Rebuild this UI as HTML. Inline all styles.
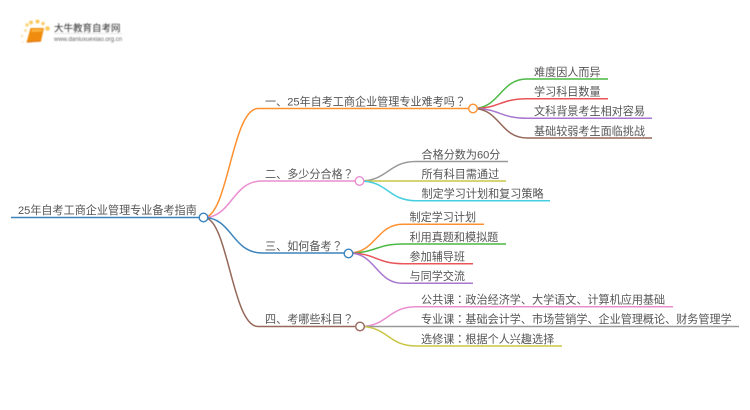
<!DOCTYPE html>
<html><head><meta charset="utf-8"><style>
html,body{margin:0;padding:0;background:#fff}
svg{display:block}
text{font-family:"Liberation Sans","Noto Sans CJK SC",sans-serif;font-size:11.1px;fill:#555}
tspan.p{font-family:"Noto Sans CJK TC",sans-serif}
path{fill:none;stroke-width:1.5}
circle{fill:#fff;stroke-width:1.4}
</style></head><body>
<svg width="750" height="410" viewBox="0 0 750 410" xmlns="http://www.w3.org/2000/svg">
<defs>
<filter id="b" x="-10%" y="-10%" width="120%" height="120%"><feGaussianBlur stdDeviation="0.4"/></filter>
<filter id="t" x="-5%" y="-20%" width="110%" height="140%"><feGaussianBlur stdDeviation="0.22"/></filter>
</defs>
<rect width="750" height="410" fill="#fff"/>
<!-- logo -->
<g filter="url(#b)">
<circle cx="22.500" cy="42" r="1" style="fill:#fdeecb;stroke:none"/>
<circle cx="22" cy="36" r="1.300" style="fill:#fde5b0;stroke:none"/>
<circle cx="25.500" cy="30.500" r="1.500" style="fill:#fde0a0;stroke:none"/>
<circle cx="27" cy="25" r="1.800" style="fill:#fbd47e;stroke:none"/>
<circle cx="31" cy="22.500" r="2" style="fill:#fbcc66;stroke:none"/>
<circle cx="37.500" cy="21.500" r="2" style="fill:#fbc95c;stroke:none"/>
<circle cx="43" cy="23.500" r="1.800" style="fill:#fbcc66;stroke:none"/>
<circle cx="47.500" cy="28.500" r="2.300" style="fill:#fbc95c;stroke:none"/>
<polygon points="30.500,28 44,28 41,41.500 26.500,42.500" fill="#f08c0c"/>
<polygon points="32,29.300 42.500,29.300 41.800,31.500 31.300,32" fill="#f9b540"/>
<line x1="27" y1="42" x2="41" y2="41" stroke="#dd700a" stroke-width="1.100"/>
<text x="54" y="31.500" style="font-size:9.500px;fill:#333">大牛教育自考网</text>
<line x1="54" y1="33.500" x2="122" y2="33.500" stroke="#ddd" stroke-width="0.8"/>
<text x="54" y="41" style="font-size:6px;fill:#666">www.daniuxuexiao.org.cn</text>
</g>

<!-- root -->
<path d="M11 217.500H199" stroke="#3b83bd"/>
<path d="M204 217.500C228 217.500 232 108.500 258 108.500H468" stroke="#ff9030"/>
<path d="M204 217.500C232 217.500 232 181 262 181H355" stroke="#ea8ed0"/>
<path d="M204 217.500C232 217.500 232 253 262 253H344" stroke="#3b83bd"/>
<path d="M204 217.500C228 217.500 232 326.500 258 326.500H355" stroke="#95685a"/>
<!-- b1 -->
<path d="M473 108.500C500 108.500 500 79 527 79H608" stroke="#4cb944"/>
<path d="M473 108.500C500 108.500 500 98.700 527 98.700H608" stroke="#e8545a"/>
<path d="M473 108.500C500 108.500 500 118.300 527 118.300H652" stroke="#a877cf"/>
<path d="M473 108.500C500 108.500 500 138 527 138H652" stroke="#95685a"/>
<!-- b2 -->
<path d="M360 181C388 181 388 161.500 416 161.500H508" stroke="#999"/>
<path d="M360 181H506" stroke="#c9c545"/>
<path d="M360 181C388 181 388 200.700 416 200.700H550" stroke="#45cfe0"/>
<!-- b3 -->
<path d="M349 253C376 253 376 224.300 403 224.300H484" stroke="#ff9030"/>
<path d="M349 253C376 253 376 244 403 244H506" stroke="#4cb944"/>
<path d="M349 253C376 253 376 263.700 403 263.700H473" stroke="#e8545a"/>
<path d="M349 253C376 253 376 283.300 403 283.300H473" stroke="#a877cf"/>
<!-- b4 -->
<path d="M360 326.500C388 326.500 388 306.700 416 306.700H673" stroke="#ea8ed0"/>
<path d="M360 326.500H739" stroke="#999"/>
<path d="M360 326.500C388 326.500 388 346 416 346H562" stroke="#c9c545"/>

<circle cx="203.500" cy="217.500" r="4.300" stroke="#3b83bd"/>
<circle cx="473" cy="108.500" r="4.300" stroke="#ff9030"/>
<circle cx="359.500" cy="181" r="4.300" stroke="#ea8ed0"/>
<circle cx="348.500" cy="253.500" r="4.300" stroke="#3b83bd"/>
<circle cx="360" cy="326.500" r="4.300" stroke="#95685a"/>

<g filter="url(#t)">
<text x="18" y="214">25年自考工商企业管理专业备考指南</text>
<text x="265" y="105.500">一、25年自考工商企业管理专业难考吗<tspan class="p">？</tspan></text>
<text x="265" y="178">二、多少分合格<tspan class="p">？</tspan></text>
<text x="265" y="250">三、如何备考<tspan class="p">？</tspan></text>
<text x="265" y="323">四、考哪些科目<tspan class="p">？</tspan></text>

<text x="534" y="76">难度因人而异</text>
<text x="534" y="95.500">学习科目数量</text>
<text x="534" y="115">文科背景考生相对容易</text>
<text x="534" y="135">基础较弱考生面临挑战</text>

<text x="421.500" y="158.500">合格分数为60分</text>
<text x="421.500" y="178">所有科目需通过</text>
<text x="421.500" y="197.500">制定学习计划和复习策略</text>

<text x="409.500" y="221">制定学习计划</text>
<text x="409.500" y="241">利用真题和模拟题</text>
<text x="409.500" y="260.500">参加辅导班</text>
<text x="409.500" y="280">与同学交流</text>

<text x="421" y="303.500">公共课<tspan class="p">：</tspan>政治经济学、大学语文、计算机应用基础</text>
<text x="421" y="323">专业课<tspan class="p">：</tspan>基础会计学、市场营销学、企业管理概论、财务管理学</text>
<text x="421" y="343">选修课<tspan class="p">：</tspan>根据个人兴趣选择</text>
</g>
</svg>
</body></html>
